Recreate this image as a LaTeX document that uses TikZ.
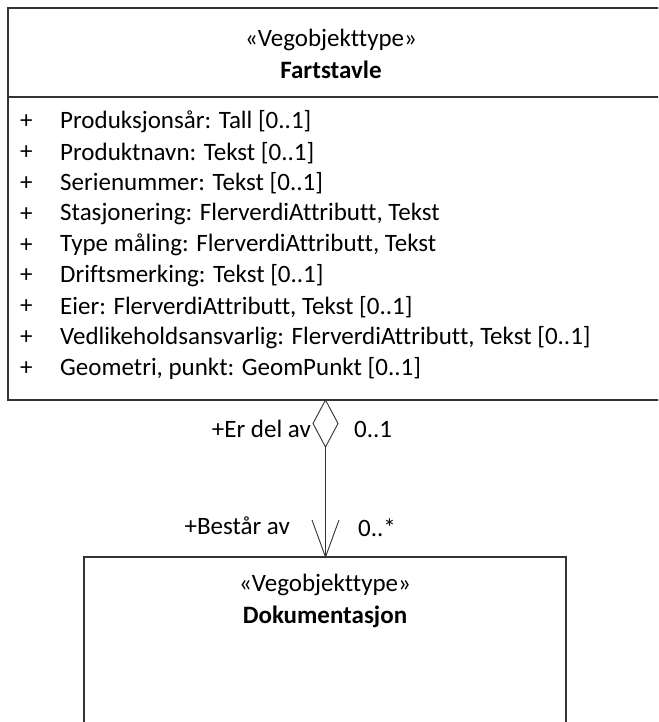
\documentclass[tikz,border=0pt]{standalone}
\usepackage{fontspec}
\setmainfont[Ligatures={NoCommon}]{Carlito}
\usetikzlibrary{arrows.meta}
\definecolor{linegray}{HTML}{333333}
\begin{document}
\begin{tikzpicture}[x=1pt,y=-1pt,
  txt/.style={inner sep=0pt,font=\fontsize{25}{28}\selectfont,text=black},
  attr/.style={txt,anchor=west},
  boxline/.style={draw=linegray,line width=1.2pt},
  conn/.style={draw=linegray,line width=0.9pt}]
\useasboundingbox (0,0) rectangle (658,722);
\begin{scope}
\clip (0,0) rectangle (658,722);
% top class
\path[boxline] (8,8) rectangle (670,400);
\draw[boxline] (8,97) -- (670,97);
\node[txt] (st1) at (331,40) {«Vegobjekttype»};
\node[txt,font=\fontsize{25}{28}\selectfont\bfseries] (n1) at (331,70) {Fartstavle};
\foreach \i/\t in {0/{Produksjonsår: Tall [0..1]},1/{Produktnavn: Tekst [0..1]},2/{Serienummer: Tekst [0..1]},3/{Stasjonering: FlerverdiAttributt, Tekst},4/{Type måling: FlerverdiAttributt, Tekst},5/{Driftsmerking: Tekst [0..1]},6/{Eier: FlerverdiAttributt, Tekst [0..1]},7/{Vedlikeholdsansvarlig: FlerverdiAttributt, Tekst [0..1]},8/{Geometri, punkt: GeomPunkt [0..1]}}{
  \node[attr] (p\i) at (20,122+30.8*\i) {+};
  \node[attr] (a\i) at (60,122+30.8*\i) {\t};
}
% bottom class
\path[boxline] (84,557) rectangle (566,740);
\node[txt] (st2) at (325,585) {«Vegobjekttype»};
\node[txt,font=\fontsize{25}{28}\selectfont\bfseries] (n2) at (325,617) {Dokumentasjon};
\end{scope}
% connector
\coordinate (dtop) at (325.5,400);
\coordinate (dleft) at (313,423.5);
\coordinate (dright) at (338,423.5);
\coordinate (dbot) at (325.5,447);
\coordinate (tip) at (325.5,557);
\draw[conn,fill=white] (dtop) -- (dleft) -- (dbot) -- (dright) -- cycle;
\draw[conn] (dbot) -- (tip);
\draw[conn,line join=miter] (312,520) -- (tip) -- (339,520);
\node[txt,anchor=east] (l1) at (311,429) {+Er del av};
\node[txt,anchor=west] (m1) at (354,429) {0..1};
\node[txt,anchor=east] (l2) at (290,526) {+Består av};
\node[txt,anchor=west] (m2) at (358,528) {0..*};
\end{tikzpicture}
\end{document}
